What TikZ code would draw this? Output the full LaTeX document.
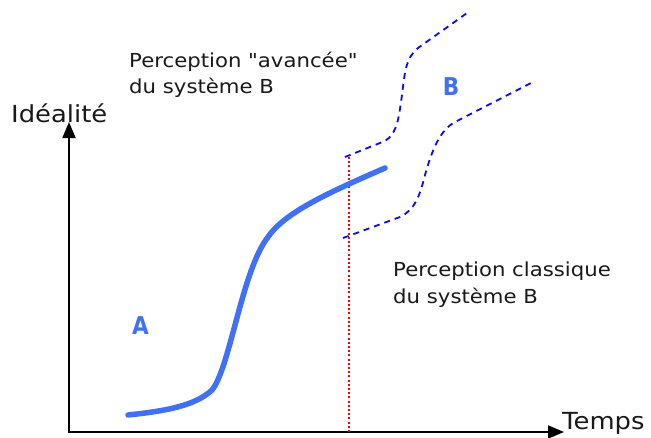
\documentclass[tikz,border=0pt]{standalone}
\usepackage{fontspec}
\newfontfamily\vfont{DejaVu Sans}[FakeStretch=1.1]
\newfontfamily\vbold{DejaVu Sans Bold}[FakeStretch=0.88]
\usetikzlibrary{arrows.meta}
\definecolor{curveblue}{RGB}{64,112,245}
\definecolor{dashblue}{RGB}{10,10,240}
\definecolor{dotred}{RGB}{255,0,0}
\tikzset{
  axis/.style={line width=1.8pt,-{Triangle[length=16pt,width=13pt]}},
  bigtext/.style={font=\vfont\fontsize{23.5}{27}\selectfont,inner sep=0pt,text=black!90},
  label/.style={font=\vfont\fontsize{19.3}{26.5}\selectfont,inner sep=0pt,align=left,text=black!90},
  letter/.style={font=\vbold\fontsize{24.5}{26}\selectfont,text=curveblue,inner sep=0pt},
  perc/.style={dashblue,line width=1.8pt,dash pattern=on 6pt off 5pt},
}
\begin{document}
\begin{tikzpicture}[x=1pt,y=-1pt]
\useasboundingbox (0,0) rectangle (651,437);
\coordinate (ytip) at (69,122);
\coordinate (xtip) at (564,432);
\draw[axis] (69,433) -- (ytip);
\draw[axis] (68,432) -- (xtip);
\node[bigtext,anchor=base west] (ylab) at (11,122) {Idéalité};
\node[bigtext,anchor=base west] (xlab) at (562,429.5) {Temps};
% red dotted present line
\coordinate (rtop) at (349,157);
\coordinate (rbot) at (349,432);
\draw[dotred,line width=2pt,dash pattern=on 2pt off 2.2pt] (rtop) -- (rbot);
% system A curve
\draw[curveblue,line width=5.5pt,line cap=round]
  (128,415) .. controls (165,411) and (195,406) .. (212,390)
  .. controls (230,368) and (242,270) .. (268,237)
  .. controls (285,212) and (330,192) .. (385,168);
% perceptions of B
\draw[perc] (345,157) -- (385,141) .. controls (398,133) and (399,115) .. (402,95)
  .. controls (405,70) and (406,58) .. (418,48) -- (467,13);
\draw[perc] (343,238) -- (400,217) .. controls (415,210) and (420,195) .. (425,175)
  .. controls (432,150) and (440,130) .. (455,122) -- (533,82);
\node[label,anchor=north west] (adv) at (129,51.5) {Perception "avancée"\\du système B};
\node[label,anchor=north west] (cla) at (393,262) {Perception classique\\du système B};
\node[letter] (A) at (140.5,326) {A};
\node[letter] (B) at (451,87) {B};
\end{tikzpicture}
\end{document}
